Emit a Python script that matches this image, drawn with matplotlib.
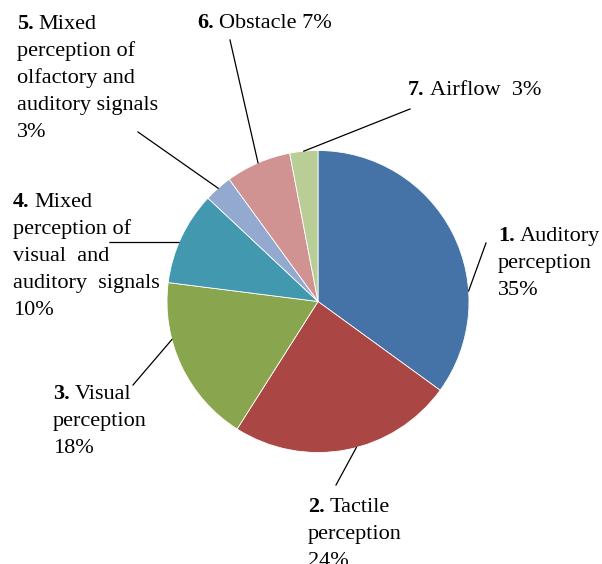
import numpy as np
import matplotlib
matplotlib.use("Agg")
import matplotlib.pyplot as plt

plt.rcParams['font.family'] = ['Liberation Serif', 'DejaVu Serif']

# data
numbers = ['1.', '2.', '3.', '4.', '5.', '6.', '7.']
names = ['Auditory\nperception', 'Tactile\nperception', 'Visual\nperception',
         'Mixed\nperception of\nvisual  and\nauditory  signals',
         'Mixed\nperception of\nolfactory and\nauditory signals',
         'Obstacle', 'Airflow ']
shares = [35, 24, 18, 10, 3, 7, 3]
colors = ['#4572A7', '#AA4643', '#89A54E', '#4198AF', '#93A9CF', '#D09392', '#B9CD96']

# layout (pixel space, y down)
cx, cy, R = 318, 301.5, 151
label_xy = [(498, 241), (308, 512), (53, 399), (13, 207), (17, 29), (197, 28), (408, 95)]
# leader line: angle on rim (deg clockwise from top), end point near label
leaders = [(86, (486, 243)), (165.3, (336, 485)), (255.4, (133, 385)),
           (293, (110, 242.5)), (318.6, (138, 132)), (336.6, (230, 40)), (354.6, (410, 109))]
inline = [False, False, False, False, False, True, True]
line_h = 27
fs = 16

fig = plt.figure(figsize=(6.02, 5.64), dpi=100)
ax = fig.add_axes([0, 0, 1, 1])

ax.pie(shares, colors=colors, startangle=-90, counterclock=True,
       center=(cx, cy), radius=R,
       wedgeprops=dict(edgecolor='white', linewidth=0.6))

ax.set_xlim(0, 602)
ax.set_ylim(564, 0)
ax.set_aspect('equal')
ax.axis('off')

renderer = fig.canvas.get_renderer()

for i in range(len(shares)):
    ang, (ex, ey) = leaders[i]
    a = np.deg2rad(ang)
    sx = cx + R * np.sin(a)
    sy = cy - R * np.cos(a)
    ax.plot([sx, ex], [sy, ey], color='black', lw=0.9)

    x, y = label_xy[i]
    if inline[i]:
        lines = [names[i] + ' ' + str(shares[i]) + '%']
    else:
        lines = names[i].split('\n') + [str(shares[i]) + '%']
    # bold number, then the rest of the first line right after it
    t = ax.text(x, y, numbers[i], fontsize=fs, fontweight='bold',
                ha='left', va='baseline')
    w = t.get_window_extent(renderer).width
    ax.text(x + w + 5, y, lines[0], fontsize=fs, ha='left', va='baseline')
    for k, s in enumerate(lines[1:], start=1):
        ax.text(x, y + k * line_h, s, fontsize=fs, ha='left', va='baseline')

fig.savefig('out.png', dpi=100)
